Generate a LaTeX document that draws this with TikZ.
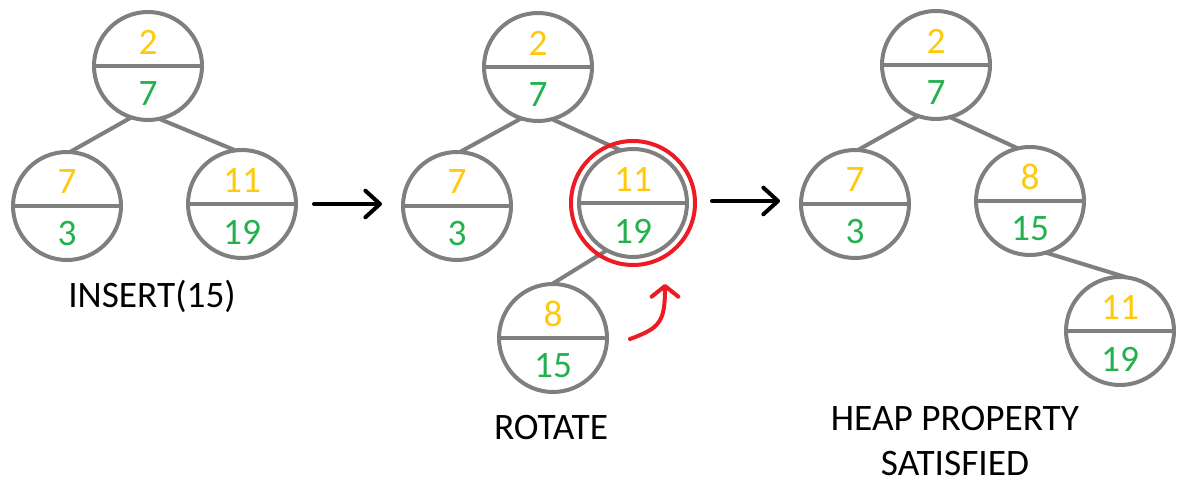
\documentclass[tikz,border=0pt]{standalone}
\usepackage{fontspec}
\setmainfont{Carlito}
\usetikzlibrary{arrows.meta}
\definecolor{keyyellow}{HTML}{FFC90E}
\definecolor{priogreen}{HTML}{22B14C}
\definecolor{treegray}{HTML}{7F7F7F}
\definecolor{markred}{HTML}{ED1C24}
\tikzstyle{heap} = [circle, minimum size=81pt, inner sep=0pt, outer sep=0pt, draw=treegray, line width=3pt]
\tikzstyle{divider} = [draw=treegray, line width=2.6pt]
\tikzstyle{keytxt} = [inner sep=0pt, text=keyyellow]
\tikzstyle{priotxt} = [inner sep=0pt, text=priogreen]
\tikzstyle{edge} = [draw=treegray, line width=3pt]
\tikzstyle{arrow} = [line width=3pt, line cap=round, -{Straight Barb[length=11pt,width=20pt,round]}]
\tikzstyle{redarrow} = [draw=markred, line width=3pt, line cap=round, -{Straight Barb[length=8pt,width=20pt,round]}]
\tikzstyle{ring} = [draw=markred, line width=3pt]
\tikzstyle{caption} = [inner sep=0pt, align=center]

% name, position, key, priority
\newcommand{\heapnode}[4]{%
  \node (#1) [heap] at (#2) {};
  \draw [divider] (#1.west) -- (#1.east);
  \node [keytxt] at ([yshift=18pt]#1.center) {#3};
  \node [priotxt] at ([yshift=-21pt]#1.center) {#4};
}

\begin{document}
\begin{tikzpicture}[x=0.75pt, y=-0.75pt, font=\fontsize{28}{34}\selectfont]
\useasboundingbox (0,0) rectangle (1199,488);

% before insert
\heapnode{r1}{148,66}{2}{7}
\heapnode{a1}{67,206}{7}{3}
\heapnode{b1}{242,204}{11}{19}
\draw [edge] (r1.-108) -- (a1.87);
\draw [edge] (r1.-78) -- (b1.97);
\node (cap1) [caption] at (152,296) {INSERT(15)};

% after insert
\heapnode{r2}{538,67}{2}{7}
\heapnode{a2}{457,206}{7}{3}
\heapnode{b2}{633,203}{11}{19}
\heapnode{c2}{553,338}{8}{15}
\draw [edge] (r2.-108) -- (a2.87);
\draw [edge] (r2.-75) -- (b2.103);
\draw [edge] (b2.-119) -- (c2.91);
\draw [ring] (b2) circle (46.5pt);
\coordinate (rotstart) at (630,339);
\coordinate (rottip) at (665,284);
\draw [redarrow] (rotstart) .. controls (660,328) and (665,322) .. (rottip);
\node (cap2) [caption] at (551,428) {ROTATE};

% after rotation
\heapnode{r3}{936,65}{2}{7}
\heapnode{a3}{855,204}{7}{3}
\heapnode{b3}{1030,201}{8}{15}
\heapnode{c3}{1120,331}{11}{19}
\draw [edge] (r3.-109) -- (a3.87);
\draw [edge] (r3.-75) -- (b3.103);
\draw [edge] (b3.-73) -- (c3.83);
\node (cap3) [caption] at (955,441) {HEAP PROPERTY\\SATISFIED};

% steps
\coordinate (s1a) at (314,204);
\coordinate (s1b) at (382,204);
\coordinate (s2a) at (712,201);
\coordinate (s2b) at (780,201);
\draw [arrow] (s1a) -- (s1b);
\draw [arrow] (s2a) -- (s2b);
\end{tikzpicture}
\end{document}
